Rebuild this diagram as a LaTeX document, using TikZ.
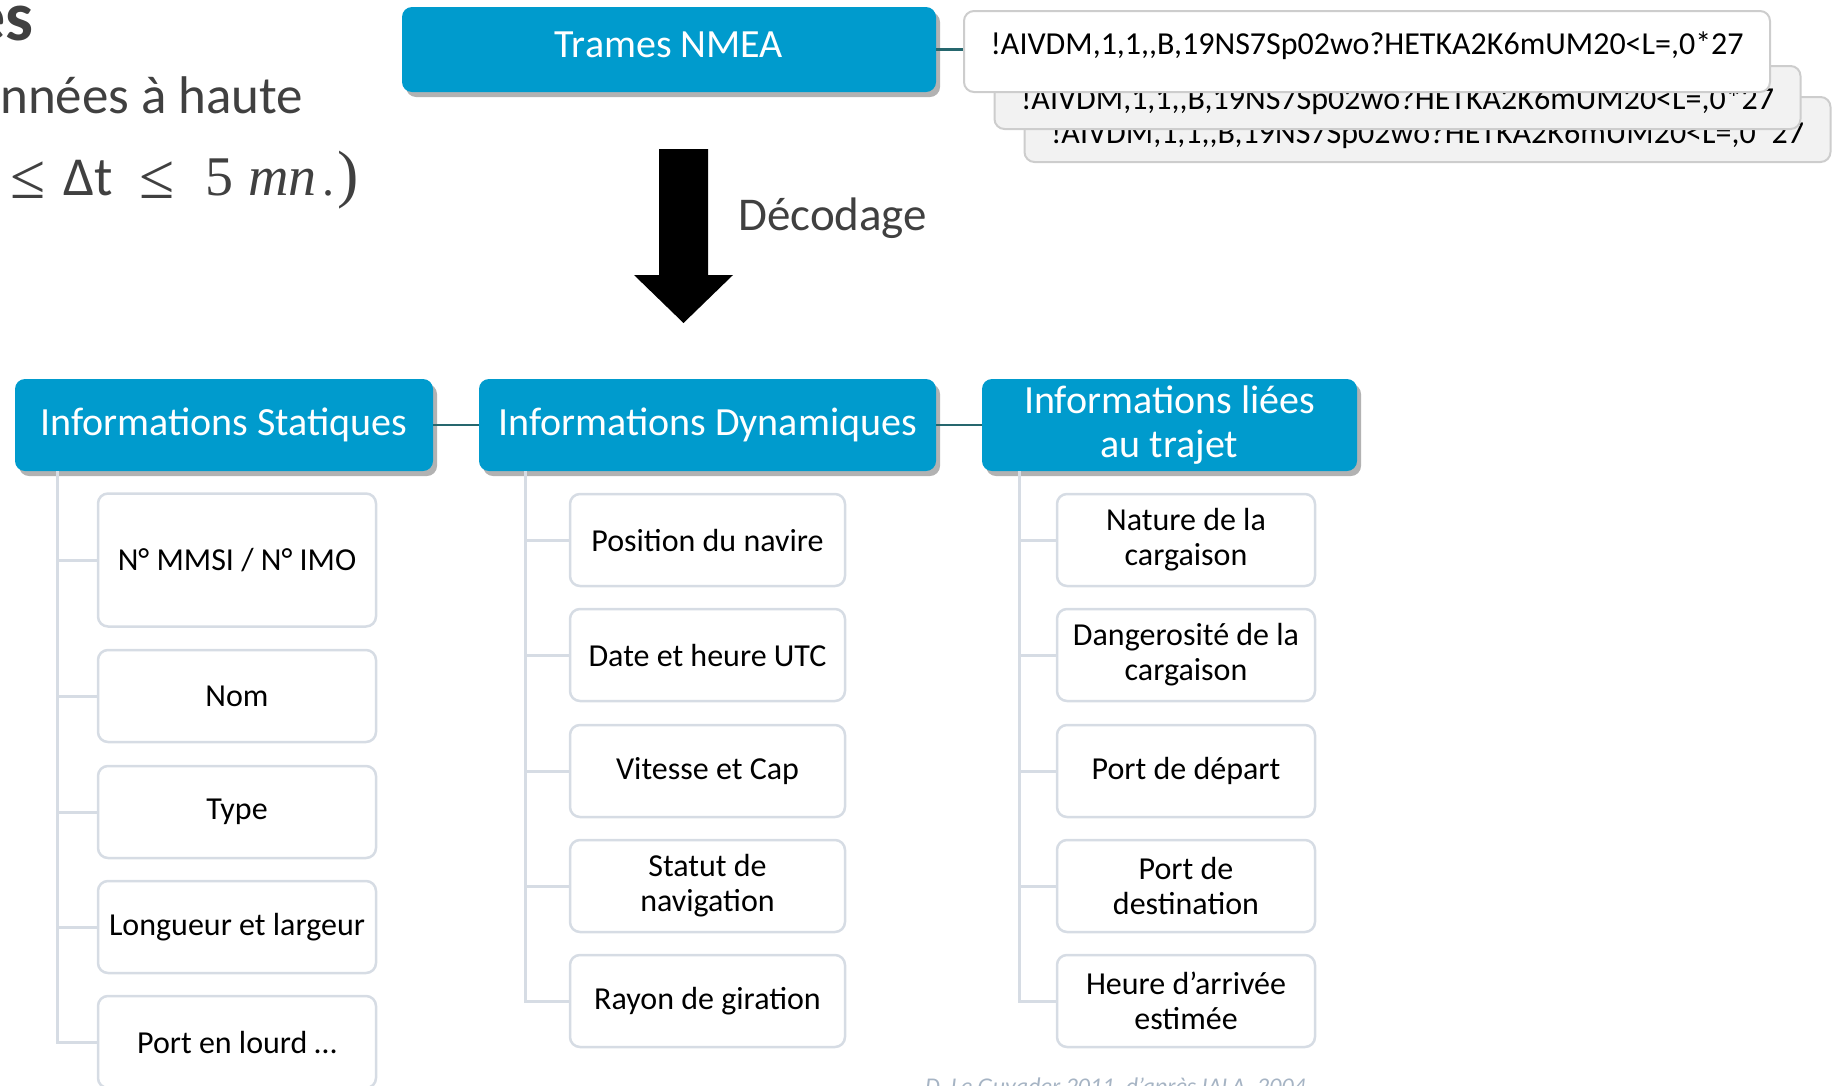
\documentclass[tikz,border=0pt]{standalone}
\usepackage{fontspec}
\setmainfont{Carlito}
\newfontfamily\serifmath{Liberation Serif}
\usetikzlibrary{shadows}
\definecolor{headblue}{RGB}{0,155,205}
\definecolor{linkteal}{RGB}{38,103,110}
\definecolor{itemgray}{RGB}{214,220,228}
\definecolor{framegray}{RGB}{205,205,205}
\definecolor{backgray}{RGB}{242,242,242}
\definecolor{textgray}{RGB}{64,64,64}
\definecolor{creditgray}{RGB}{166,180,196}
\tikzset{
	head/.style={fill=headblue, text=white, rounded corners=10pt, inner sep=0pt, align=center,
		font=\fontsize{40}{43.5}\selectfont, minimum height=92pt,
		drop shadow={shadow xshift=4pt, shadow yshift=-5pt, opacity=0.3, fill=black}},
	item/.style={draw=itemgray, line width=2.5pt, fill=white, rounded corners=10pt, inner sep=0pt,
		align=center, minimum height=92pt, font=\fontsize{32}{35}\selectfont},
	frame/.style={draw=framegray, line width=2pt, rounded corners=10pt, inner sep=0pt, minimum width=806pt},
	frametext/.style={anchor=base, inner sep=0pt, font=\fontsize{32}{35}\selectfont},
	slide/.style={anchor=base west, inner sep=0pt, text=textgray},
	trunk/.style={draw=itemgray, line width=3pt},
	link/.style={draw=linkteal, line width=2.5pt}
}
\def\trame{!AIVDM,1,1,{},B,19NS7Sp02wo?HETKA2K6mUM20<L=,0*27}

\begin{document}
\begin{tikzpicture}[x=1pt, y=-1pt]
			%%%%% START %%%%%
			\useasboundingbox (0, 0) rectangle (1842, 1085);
			\clip (0, 0) rectangle (1842, 1085);
			
			% texte de la diapositive, coupe au bord
			\node[slide, font=\bfseries\fontsize{70}{70}\selectfont] (ttl) at (-30, 40) {es};
			\node[slide, font=\fontsize{53}{60}\selectfont] (hr) at (0, 113) {nnées à haute};
			\node[slide, font=\serifmath\fontsize{64}{64}\selectfont] (le1) at (10, 198) {≤};
			\node[slide, font=\fontsize{55}{58}\selectfont] (dlt) at (63, 195) {Δt};
			\node[slide, font=\serifmath\fontsize{64}{64}\selectfont] (le2) at (139, 198) {≤};
			\node[slide, font=\serifmath\fontsize{56}{56}\selectfont] (five) at (205, 195) {5};
			\node[slide, font=\serifmath\itshape\fontsize{56}{56}\selectfont] (mn) at (248, 195) {mn};
			\node[slide, font=\serifmath\fontsize{48}{48}\selectfont] (dot) at (322, 195) {.};
			\node[slide, font=\serifmath\fontsize{64}{64}\selectfont] (par) at (337, 195) {)};
			
			% trames
			\node[head, minimum width=534pt, minimum height=85pt, text depth=9pt] (nmea) at (669, 49.5) {Trames NMEA};
			
			\node[frame, fill=backgray, minimum height=65pt] (f3) at (1427.5, 129.5) {};
			\node[frametext] (t3) at (1427.5, 143) {\trame};
			\node[frame, fill=backgray, minimum height=63pt] (f2) at (1397.5, 97.5) {};
			\node[frametext] (t2) at (1397.5, 109) {\trame};
			\node[frame, fill=white, minimum height=81pt] (f1) at (1367, 51.5) {};
			\node[frametext] (t1) at (1367, 54) {\trame};
			
			\draw[link] (nmea.east) -- (nmea.east -| f1.west);
			
			% decodage
			\fill[black] (659, 149) -- (708, 149) -- (708, 275) -- (733, 275) -- (683.5, 323) -- (634, 275) -- (659, 275) -- cycle;
			\node[slide, font=\fontsize{47}{50}\selectfont] (dec) at (738, 230) {Décodage};
			
			% en-tetes
			\node[head, minimum width=418pt] (stat) at (224, 425) {Informations Statiques};
			\node[head, minimum width=457pt] (dyn) at (707.5, 425) {Informations Dynamiques};
			\node[head, minimum width=375pt] (traj) at (1169.5, 425) {Informations liées\\au trajet};
			
			\draw[link] (stat.east) -- (dyn.west);
			\draw[link] (dyn.east) -- (traj.west);
			
			% informations statiques
			\node[item, minimum width=278pt, minimum height=133pt] (s1) at (237, 560) {N° MMSI / N° IMO};
			\node[item, minimum width=278pt] (s2) at (237, 696) {Nom};
			\node[item, minimum width=278pt] (s3) at (237, 812) {Type};
			\node[item, minimum width=278pt] (s4) at (237, 927) {Longueur et largeur};
			\node[item, minimum width=278pt] (s5) at (237, 1042) {Port en lourd …};
			
			\draw[trunk] ([xshift=42.5pt]stat.south west) |- (s1.west);
			\draw[trunk] ([xshift=42.5pt]stat.south west) |- (s2.west);
			\draw[trunk] ([xshift=42.5pt]stat.south west) |- (s3.west);
			\draw[trunk] ([xshift=42.5pt]stat.south west) |- (s4.west);
			\draw[trunk] ([xshift=42.5pt]stat.south west) |- (s5.west);
			
			% informations dynamiques
			\node[item, minimum width=275pt] (d1) at (707.5, 540) {Position du navire};
			\node[item, minimum width=275pt] (d2) at (707.5, 655) {Date et heure UTC};
			\node[item, minimum width=275pt] (d3) at (707.5, 771) {Vitesse et Cap};
			\node[item, minimum width=275pt] (d4) at (707.5, 886) {Statut de\\navigation};
			\node[item, minimum width=275pt] (d5) at (707.5, 1001) {Rayon de giration};
			
			\draw[trunk] ([xshift=46.5pt]dyn.south west) |- (d1.west);
			\draw[trunk] ([xshift=46.5pt]dyn.south west) |- (d2.west);
			\draw[trunk] ([xshift=46.5pt]dyn.south west) |- (d3.west);
			\draw[trunk] ([xshift=46.5pt]dyn.south west) |- (d4.west);
			\draw[trunk] ([xshift=46.5pt]dyn.south west) |- (d5.west);
			
			% informations liees au trajet
			\node[item, minimum width=258pt] (r1) at (1186, 540) {Nature de la\\cargaison};
			\node[item, minimum width=258pt] (r2) at (1186, 655) {Dangerosité de la\\cargaison};
			\node[item, minimum width=258pt] (r3) at (1186, 771) {Port de départ};
			\node[item, minimum width=258pt] (r4) at (1186, 886) {Port de\\destination};
			\node[item, minimum width=258pt] (r5) at (1186, 1001) {Heure d’arrivée\\estimée};
			
			\draw[trunk] ([xshift=38pt]traj.south west) |- (r1.west);
			\draw[trunk] ([xshift=38pt]traj.south west) |- (r2.west);
			\draw[trunk] ([xshift=38pt]traj.south west) |- (r3.west);
			\draw[trunk] ([xshift=38pt]traj.south west) |- (r4.west);
			\draw[trunk] ([xshift=38pt]traj.south west) |- (r5.west);
			
			\node[anchor=base west, inner sep=0pt, text=creditgray, font=\itshape\fontsize{24}{28}\selectfont] (src) at (925, 1094) {D. Le Guyader 2011, d’après IALA, 2004};
			%%%%% END %%%%%
\end{tikzpicture}
\end{document}
